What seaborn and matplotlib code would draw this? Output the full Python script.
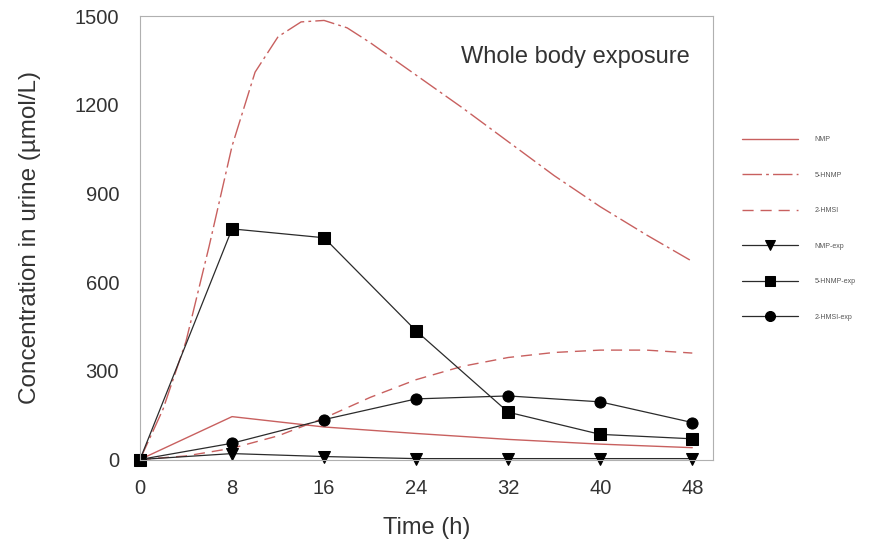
import numpy as np
import pandas as pd
import matplotlib
matplotlib.use("Agg")
import matplotlib.pyplot as plt
import seaborn as sns

sns.set_theme(style="white")
plt.rcParams['font.family'] = ['Liberation Sans', 'DejaVu Sans']

# Model curves
nmp_t = [0, 8, 16, 24, 32, 40, 48]
nmp_v = [0, 145, 110, 88, 68, 52, 40]

hnmp_t = [0, 2, 4, 6, 8, 10, 12, 14, 16, 18, 20, 24, 28, 32, 36, 40, 44, 48]
hnmp_v = [0, 170, 400, 720, 1060, 1310, 1430, 1480, 1485, 1460, 1410, 1300, 1190, 1075, 960, 855, 760, 670]

hmsi_t = [0, 4, 8, 12, 16, 20, 24, 28, 32, 36, 40, 44, 48]
hmsi_v = [0, 12, 38, 80, 140, 210, 270, 315, 345, 362, 370, 370, 360]

# Experimental data
exp_t = [0, 8, 16, 24, 32, 40, 48]
nmp_exp = [0, 20, 10, 3, 3, 3, 3]
hnmp_exp = [0, 780, 750, 435, 160, 85, 70]
hmsi_exp = [0, 55, 135, 205, 215, 195, 125]

x_ticks = [0, 8, 16, 24, 32, 40, 48]
y_ticks = [0, 300, 600, 900, 1200, 1500]

red = "#c8605f"
dark = "#2b2b2b"

fig = plt.figure(figsize=(8.72, 5.43), dpi=100)
ax = fig.add_axes([140/872, 1-459.5/543, (713-140)/872, (459.5-16)/543])

sns.lineplot(x=nmp_t, y=nmp_v, ax=ax, color=red, lw=1.0, label="NMP")
sns.lineplot(x=hnmp_t, y=hnmp_v, ax=ax, color=red, lw=1.0, label="5-HNMP",
             linestyle=(0, (14, 3, 2, 3)))
sns.lineplot(x=hmsi_t, y=hmsi_v, ax=ax, color=red, lw=1.0, label="2-HMSI",
             linestyle=(0, (8, 5)))

sns.lineplot(x=exp_t, y=nmp_exp, ax=ax, color=dark, lw=0.9, marker="v",
             markersize=8, markeredgecolor="black", markerfacecolor="black",
             label="NMP-exp", clip_on=False)
sns.lineplot(x=exp_t, y=hnmp_exp, ax=ax, color=dark, lw=0.9, marker="s",
             markersize=8, markeredgecolor="black", markerfacecolor="black",
             label="5-HNMP-exp", clip_on=False)
sns.lineplot(x=exp_t, y=hmsi_exp, ax=ax, color=dark, lw=0.9, marker="o",
             markersize=8, markeredgecolor="black", markerfacecolor="black",
             label="2-HMSI-exp", clip_on=False)

ax.set_xlim(0, 49.8)
ax.set_ylim(0, 1500)
ax.set_xticks(x_ticks)
ax.set_yticks(y_ticks)
ax.tick_params(axis='both', labelsize=14.5, labelcolor="#333333", direction='in',
               length=7, width=0.6, color="#aaaaaa")
ax.tick_params(axis='y', pad=15)
ax.tick_params(axis='x', pad=14)
for s in ax.spines.values():
    s.set_color("#b0b0b0")
    s.set_linewidth(0.8)

ax.set_xlabel("Time (h)", fontsize=17, color="#333333", labelpad=14)
ax.set_ylabel("Concentration in urine (µmol/L)", fontsize=17.5, color="#333333", labelpad=24)

fig.text(690/872, 1-57/543, "Whole body exposure",
         ha="right", va="center", fontsize=17, color="#333333")

handles, labels = ax.get_legend_handles_labels()
ax.legend_.remove()
fig.legend(handles, labels, loc="upper left", bbox_to_anchor=(736/872, 1-130/543),
           frameon=False, fontsize=5, labelspacing=4.1, handlelength=8,
           handletextpad=2.4, markerscale=0.9, labelcolor="#555555")

fig.savefig("out.png", dpi=100)
